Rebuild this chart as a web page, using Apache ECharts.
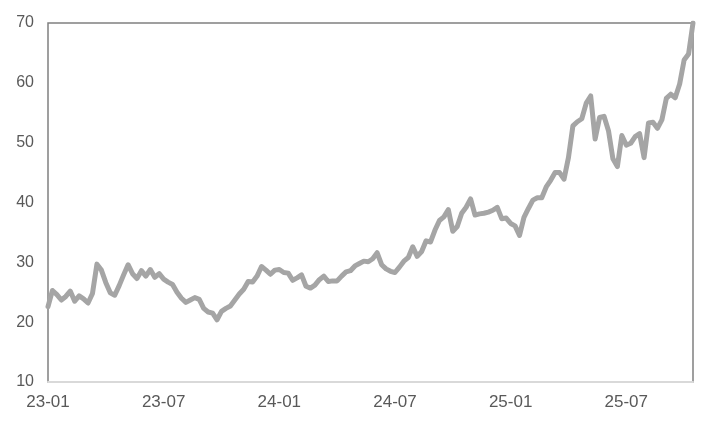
<!DOCTYPE html>
<html>
<head>
<meta charset="utf-8">
<script src="https://cdn.jsdelivr.net/npm/echarts@6/dist/echarts.min.js"></script>
<style>html,body{margin:0;padding:0;background:#fff;}#c{width:716px;height:427px;}</style>
</head>
<body>
<div id="c"></div>
<script>
// Weekly observations starting 2023-01-06
const startDate = '2023-01-06';
const values = [
22.6,25.3,24.6,23.7,24.3,25.2,23.5,24.4,23.9,23.2,
24.8,29.7,28.7,26.6,24.9,24.5,26.1,27.9,29.6,28.1,
27.3,28.6,27.7,28.8,27.5,28.1,27.2,26.7,26.3,25.0,
24.0,23.3,23.7,24.1,23.8,22.3,21.7,21.5,20.4,21.8,
22.3,22.7,23.7,24.7,25.5,26.8,26.7,27.7,29.3,28.7,
28.0,28.7,28.8,28.3,28.2,27.0,27.4,27.9,26.0,25.7,
26.2,27.1,27.7,26.8,26.9,26.9,27.7,28.4,28.6,29.4,
29.8,30.2,30.1,30.6,31.6,29.6,28.9,28.5,28.3,29.2,
30.2,30.8,32.6,31.0,31.8,33.6,33.4,35.4,37.0,37.6,
38.8,35.2,36.0,38.2,39.2,40.6,37.9,38.1,38.2,38.4,
38.7,39.2,37.3,37.4,36.5,36.1,34.5,37.5,39.0,40.4,
40.8,40.8,42.6,43.7,45.0,45.0,43.9,47.5,52.8,53.5,
54.0,56.6,57.8,50.6,54.2,54.4,52.0,47.3,46.0,51.2,
49.6,49.9,51.0,51.5,47.5,53.3,53.4,52.4,53.8,57.4,
58.1,57.5,59.8,63.8,64.8,70.0
];
const yMin = 10, yMax = 70, yStep = 10;

// Build weekly category dates
const dates = [];
{
  const d0 = new Date(startDate + 'T00:00:00Z');
  for (let i = 0; i < values.length; i++) {
    const d = new Date(d0.getTime() + i * 7 * 86400000);
    dates.push(d.toISOString().slice(0, 10));
  }
}

const chart = echarts.init(document.getElementById('c'));
chart.setOption({
  animation: false,
  backgroundColor: '#ffffff',
  grid: {
    left: 48, right: 23, top: 23, bottom: 45,
    show: true, borderColor: '#808080', borderWidth: 1.5, backgroundColor: 'transparent'
  },
  xAxis: {
    type: 'category',
    data: dates,
    boundaryGap: false,
    axisLine: { show: true, lineStyle: { color: '#d9d9d9', width: 2 } },
    axisTick: { show: false },
    axisLabel: {
      interval: 25,
      margin: 12,
      color: '#595959',
      fontFamily: 'Liberation Sans',
      fontSize: 17,
      formatter: function (v) { return v.slice(2, 4) + '-' + v.slice(5, 7); }
    },
    splitLine: { show: false }
  },
  yAxis: {
    type: 'value',
    min: yMin, max: yMax, interval: yStep,
    axisLine: { show: false },
    axisTick: { show: false },
    splitLine: { show: false },
    axisLabel: {
      margin: 14,
      color: '#595959',
      fontFamily: 'Liberation Sans',
      fontSize: 16
    }
  },
  series: [{
    type: 'line',
    data: values,
    symbol: 'none',
    lineStyle: { color: '#a5a5a5', width: 5, join: 'round', cap: 'round' },
    itemStyle: { color: '#a5a5a5' }
  }]
});
</script>
</body>
</html>
